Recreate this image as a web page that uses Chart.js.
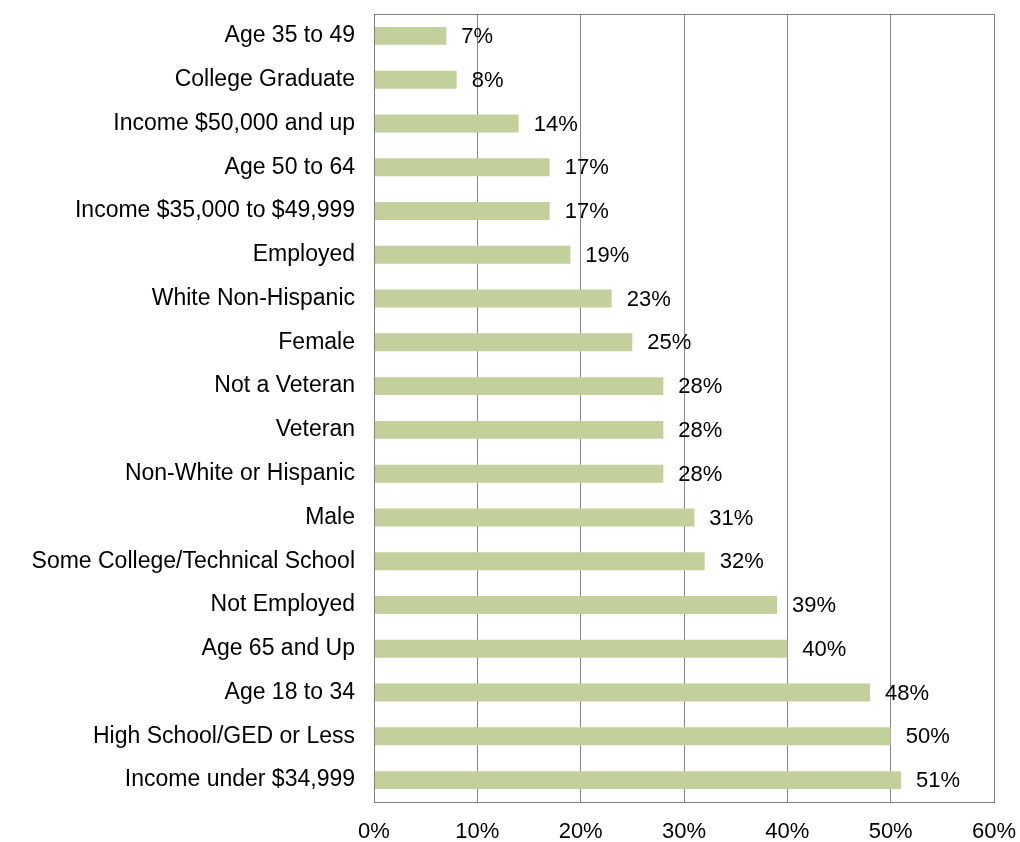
<!DOCTYPE html>
<html>
<head>
<meta charset="utf-8">
<script src="https://cdn.jsdelivr.net/npm/chart.js@4"></script>
<style>
  html, body { margin: 0; padding: 0; background: #fff; }
  #wrap { width: 1020px; height: 842px; }
</style>
</head>
<body>
<div id="wrap"><canvas id="barChart" width="1020" height="842"></canvas></div>
<script>
'use strict';

const categories = [
  'Age 35 to 49', 'College Graduate', 'Income $50,000 and up', 'Age 50 to 64',
  'Income $35,000 to $49,999', 'Employed', 'White Non-Hispanic', 'Female',
  'Not a Veteran', 'Veteran', 'Non-White or Hispanic', 'Male',
  'Some College/Technical School', 'Not Employed', 'Age 65 and Up',
  'Age 18 to 34', 'High School/GED or Less', 'Income under $34,999'
];
const percentValues = [7, 8, 14, 17, 17, 19, 23, 25, 28, 28, 28, 31, 32, 39, 40, 48, 50, 51];
const tickValues = [0, 10, 20, 30, 40, 50, 60];

const FONT = '"Liberation Sans", Arial, sans-serif';

// 値ラベルを棒の右に描く
const valueLabels = {
  id: 'valueLabels',
  afterDatasetsDraw(chart) {
    const ctx = chart.ctx;
    const meta = chart.getDatasetMeta(0);
    ctx.save();
    ctx.font = '22px ' + FONT;
    ctx.fillStyle = '#000';
    ctx.textBaseline = 'middle';
    ctx.textAlign = 'left';
    meta.data.forEach(function(bar, i) {
      ctx.fillText(percentValues[i] + '%', bar.x + 15, bar.y + 1);
    });
    ctx.restore();
  }
};

// プロットの枠線
const plotBorder = {
  id: 'plotBorder',
  afterDraw(chart) {
    const a = chart.chartArea;
    const ctx = chart.ctx;
    ctx.save();
    ctx.strokeStyle = '#7f7f7f';
    ctx.lineWidth = 1;
    ctx.strokeRect(Math.round(a.left) + 0.5, Math.round(a.top) + 0.5,
      Math.round(a.right - a.left), Math.round(a.bottom - a.top));
    ctx.restore();
  }
};

let context = document.querySelector('#barChart').getContext('2d');
new Chart(context, {
  type: 'bar',
  data: {
    labels: categories,
    datasets: [{
      data: percentValues,
      backgroundColor: '#c4d09b',
      borderWidth: 0,
      barPercentage: 0.41,
      categoryPercentage: 1
    }]
  },
  options: {
    indexAxis: 'y',
    responsive: false,
    animation: false,
    layout: { padding: { left: 0, top: 14, right: 26, bottom: 0 } },
    plugins: {
      legend: { display: false },
      tooltip: { enabled: false }
    },
    scales: {
      x: {
        min: 0,
        max: 60,
        afterBuildTicks: function(scale) {
          scale.ticks = tickValues.map(function(v) { return { value: v }; });
        },
        grid: { color: '#868686', drawTicks: false },
        border: { display: false },
        ticks: {
          padding: 17,
          color: '#000',
          font: { family: FONT, size: 22 },
          callback: function(v) { return v + '%'; }
        },
        afterFit: function(scale) {
          scale.height = 40;
          scale.paddingLeft = 0;
          scale.paddingRight = 0;
        }
      },
      y: {
        grid: { display: false, drawTicks: false },
        border: { display: false },
        ticks: {
          padding: 19,
          color: '#000',
          font: { family: FONT, size: 23 },
          autoSkip: false
        },
        afterFit: function(scale) {
          scale.width = 374;
          scale.paddingTop = 0;
          scale.paddingBottom = 0;
        }
      }
    }
  },
  plugins: [valueLabels, plotBorder]
});
</script>
</body>
</html>
